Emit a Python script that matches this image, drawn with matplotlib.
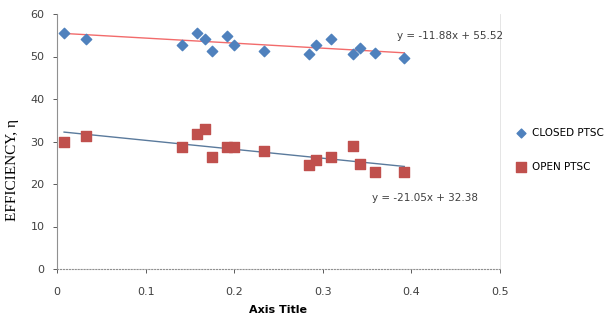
import numpy as np
import matplotlib.pyplot as plt

# datos
x_closed = [0.008, 0.033, 0.141, 0.158, 0.167, 0.175, 0.192, 0.200, 0.234, 0.284, 0.292, 0.309, 0.334, 0.342, 0.359, 0.392]
y_closed = [55.5, 54.1, 52.7, 55.5, 54.1, 51.3, 54.9, 52.7, 51.3, 50.7, 52.7, 54.1, 50.6, 52.0, 50.9, 49.6]
x_open = [0.008, 0.033, 0.141, 0.158, 0.167, 0.175, 0.192, 0.200, 0.234, 0.284, 0.292, 0.309, 0.334, 0.342, 0.359, 0.392]
y_open = [30.0, 31.4, 28.6, 31.8, 32.9, 26.4, 28.6, 28.8, 27.8, 24.5, 25.6, 26.4, 28.9, 24.6, 22.9, 22.9]

fit_closed = (-11.88, 55.52)
fit_open = (-21.05, 32.38)

fig = plt.figure(figsize=(6.09, 3.2), dpi=100)
ax = fig.add_axes([57/609, 1-269/320, 443/609, 255/320])

ax.scatter(x_closed, y_closed, marker='D', s=28, color='#4F81BD', label='CLOSED PTSC', zorder=3)
ax.scatter(x_open, y_open, marker='s', s=60, color='#C0504D', label='OPEN PTSC', zorder=3)

# lineas de tendencia
xl = np.array([min(x_closed), max(x_closed)])
ax.plot(xl, fit_closed[0]*xl + fit_closed[1], color='#F26B6B', lw=1, zorder=2)
xl = np.array([min(x_open), max(x_open)])
ax.plot(xl, fit_open[0]*xl + fit_open[1], color='#5A7A9C', lw=1, zorder=2)

ax.text(0.384, 54.8, 'y = -11.88x + 55.52', fontsize=7.5, color='#404040', va='center')
ax.text(0.356, 16.7, 'y = -21.05x + 32.38', fontsize=7.5, color='#404040', va='center')

ax.set_xlim(0, 0.5)
ax.set_ylim(0, 60)
ax.set_xticks([0, 0.1, 0.2, 0.3, 0.4, 0.5])
ax.set_xticklabels(['0', '0.1', '0.2', '0.3', '0.4', '0.5'])
ax.set_yticks([0, 10, 20, 30, 40, 50, 60])
ax.tick_params(labelsize=8, colors='#404040', length=3, width=0.6, pad=6)
ax.tick_params(axis='x', pad=10)

ax.spines['top'].set_visible(False)
ax.spines['right'].set_color('#e0e0e0')
ax.spines['right'].set_linewidth(0.6)
ax.spines['left'].set_color('#909090')
ax.spines['left'].set_linewidth(0.8)
ax.spines['bottom'].set_color('#909090')
ax.spines['bottom'].set_linewidth(0.8)
ax.spines['bottom'].set_linestyle(':')

ax.set_xlabel('Axis Title', fontsize=8, fontweight='bold')
ax.xaxis.set_label_coords(0.499, -0.14)
ax.set_ylabel('EFFICIENCY, η', fontsize=11, family='Liberation Serif')
ax.yaxis.set_label_coords(-0.085, 0.388)

fig.legend(loc='upper left', bbox_to_anchor=(511/609, 1-128/320), frameon=False,
           fontsize=7.5, handletextpad=0.0, labelspacing=2.3, markerscale=0.85,
           borderaxespad=0, borderpad=0)

fig.savefig('out.png', dpi=100)
